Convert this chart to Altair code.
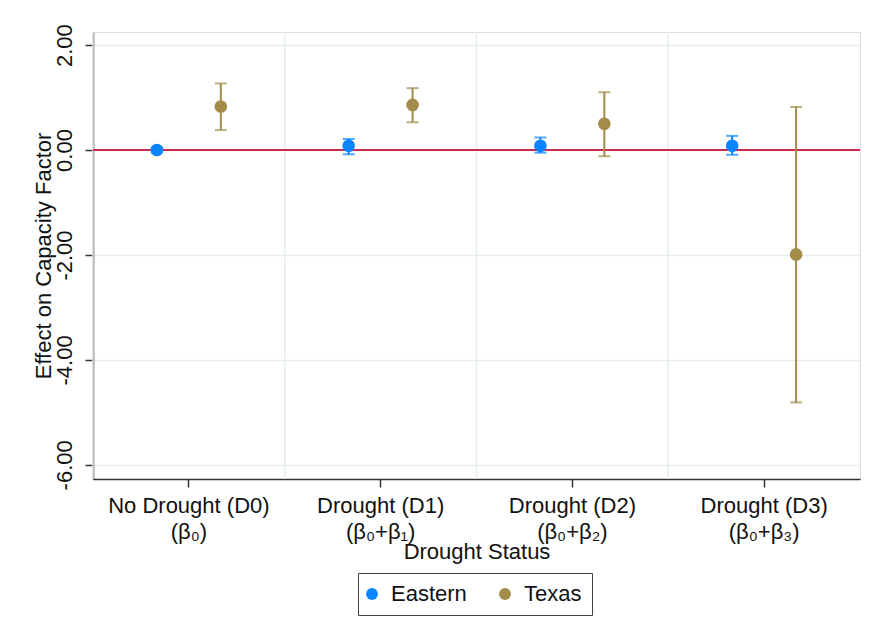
import altair as alt
import pandas as pd

# Drought categories (label line break marked by "|")
categories = [
    "No Drought (D0)|(β₀)",
    "Drought (D1)|(β₀+β₁)",
    "Drought (D2)|(β₀+β₂)",
    "Drought (D3)|(β₀+β₃)",
]
groups = ["Eastern", "Texas"]

# Point estimates and confidence bounds per interconnection
eastern_est = [0.00, 0.08, 0.08, 0.08]
eastern_lo = [-0.05, -0.08, -0.05, -0.09]
eastern_hi = [0.05, 0.21, 0.24, 0.27]

texas_est = [0.83, 0.86, 0.50, -1.99]
texas_lo = [0.38, 0.53, -0.12, -4.81]
texas_hi = [1.27, 1.18, 1.10, 0.82]

y_ticks = [2, 0, -2, -4, -6]
colors = ["#0a84ff", "#a38b4a"]
FONT = "Liberation Sans"

rows = []
for g, est, lo, hi in [("Eastern", eastern_est, eastern_lo, eastern_hi),
                       ("Texas", texas_est, texas_lo, texas_hi)]:
    for c, e, l, h in zip(categories, est, lo, hi):
        rows.append({"cat": c, "group": g, "est": e, "lo": l, "hi": h})
df = pd.DataFrame(rows)
cat_df = pd.DataFrame({"cat": categories})
ref_df = pd.DataFrame({"ref": [0.0]})

x_axis = alt.Axis(
    title="Drought Status",
    labelExpr="split(datum.label, '|')",
    labelAngle=0,
    labelFontSize=22,
    labelLineHeight=26,
    labelPadding=8,
    labelColor="#111",
    titleFontSize=22,
    titleFontWeight="normal",
    titleColor="#111",
    titleBaseline="middle",
    titleY=72,
    tickSize=8,
    tickColor="#333",
    domainColor="#333",
    domainWidth=1.5,
    tickWidth=1.5,
    grid=False,
)
x_scale = alt.Scale(paddingInner=0, paddingOuter=0)
x_enc = alt.X("cat:N", sort=categories, scale=x_scale, axis=x_axis)

y_scale = alt.Scale(domain=[-6.27, 2.25], nice=False, zero=False)
y_axis = alt.Axis(
    title="Effect on Capacity Factor",
    values=y_ticks,
    labelExpr="(datum.value < 0 ? '-' : '') + format(abs(datum.value), '.2f')",
    labelAngle=270,
    labelAlign="center",
    labelBaseline="bottom",
    labelFontSize=22,
    labelPadding=9,
    labelColor="#111",
    titleFontSize=22,
    titleFontWeight="normal",
    titleColor="#111",
    titleX=-50,
    titleBaseline="middle",
    tickSize=8,
    tickColor="#333",
    domainColor="#333",
    domainWidth=1.5,
    tickWidth=1.5,
    grid=True,
    gridColor="#e6eef0",
    gridWidth=1.5,
)
off_enc = alt.XOffset(
    "group:N",
    scale=alt.Scale(domain=groups, paddingInner=0, paddingOuter=0.5),
)
legend = alt.Legend(
    title=None,
    orient="none",
    legendX=265,
    legendY=541,
    direction="horizontal",
    strokeColor="#404040",
    fillColor="white",
    padding=10,
    symbolType="circle",
    symbolSize=140,
    symbolStrokeWidth=0,
    symbolOpacity=1,
    symbolOffset=-7,
    labelFontSize=22,
    labelColor="#111",
    labelOffset=8,
    columnPadding=32,
)
color_enc = alt.Color("group:N", scale=alt.Scale(domain=groups, range=colors), legend=legend)

base = alt.Chart(df)

# Estimate markers
points = base.mark_circle(size=160, opacity=1).encode(
    x=x_enc, xOffset=off_enc,
    y=alt.Y("est:Q", scale=y_scale, axis=y_axis),
    color=color_enc,
)

# Vertical separators between drought categories
vgrid = alt.Chart(cat_df).mark_rule(color="#e6eef0", strokeWidth=1.5).encode(
    x=alt.X("cat:N", sort=categories, scale=x_scale, axis=x_axis, bandPosition=0)
)

# Zero reference line
zero_line = alt.Chart(ref_df).mark_rule(color="#cc2a50", strokeWidth=2).encode(
    y=alt.Y("ref:Q", scale=y_scale, axis=y_axis)
)

# Confidence intervals with end caps
bars = base.mark_rule(strokeWidth=2).encode(
    x=x_enc, xOffset=off_enc,
    y=alt.Y("lo:Q", scale=y_scale, axis=y_axis), y2="hi:Q",
    color=color_enc,
)
cap_lo = base.mark_tick(orient="horizontal", size=12, thickness=2).encode(
    x=x_enc, xOffset=off_enc,
    y=alt.Y("lo:Q", scale=y_scale, axis=y_axis),
    color=color_enc,
)
cap_hi = base.mark_tick(orient="horizontal", size=12, thickness=2).encode(
    x=x_enc, xOffset=off_enc,
    y=alt.Y("hi:Q", scale=y_scale, axis=y_axis),
    color=color_enc,
)

chart = alt.layer(vgrid, zero_line, bars, cap_lo, cap_hi, points).properties(
    width=767,
    height=447,
    autosize=alt.AutoSizeParams(type="none"),
    padding={"left": 93, "top": 32, "right": 12, "bottom": 159},
    background="white",
).configure_view(stroke=None).configure(font=FONT)

chart.save("out.html", embed_options={"renderer": "svg", "actions": False})
